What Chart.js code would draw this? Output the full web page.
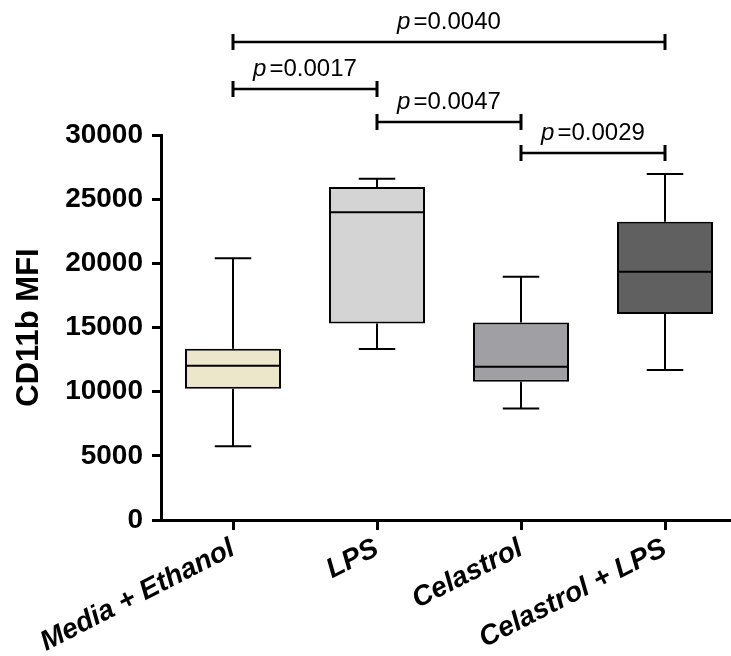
<!DOCTYPE html>
<html>
<head>
<meta charset="utf-8">
<script src="https://cdn.jsdelivr.net/npm/chart.js@4.4.1/dist/chart.umd.min.js"></script>
<style>
    html, body { margin: 0; padding: 0; background: #fff; overflow: hidden; }
    #wrap { width: 750px; height: 656px; }
</style>
</head>
<body>
<div id="wrap"><canvas id="mfiChart" width="750" height="656"></canvas></div>
<script>
// ============================================
// DATA - CD11b MFI per treatment group
// ============================================

const groups = ['Media + Ethanol', 'LPS', 'Celastrol', 'Celastrol + LPS'];
const minVals = [5750, 13330, 8680, 11690];
const q1Vals = [10230, 15320, 10780, 16050];
const medianVals = [12020, 23980, 11950, 19350];
const q3Vals = [13350, 25950, 15380, 23250];
const maxVals = [20390, 26600, 18960, 26960];
const boxColors = ['#ece6cb', '#d4d4d4', '#a09fa4', '#606060'];

// Pairwise comparisons (group index from -> to) and their p values
const compareFrom = [0, 0, 1, 2];
const compareTo = [3, 1, 2, 3];
const pValues = ['0.0040', '0.0017', '0.0047', '0.0029'];

const FONT = "'Liberation Sans', Arial, Helvetica, sans-serif";

// ============================================
// PLUGINS
// ============================================

// Whiskers (min/max with caps) behind the boxes, median line on top
const boxExtras = {
    id: 'boxExtras',
    beforeDatasetsDraw(chart) {
        const ctx = chart.ctx;
        const y = chart.scales.y;
        const bars = chart.getDatasetMeta(0).data;
        ctx.save();
        ctx.strokeStyle = '#000';
        ctx.lineWidth = 2;
        bars.forEach((bar, i) => {
            const cap = bar.width * 0.19;
            const yMin = y.getPixelForValue(minVals[i]);
            const yMax = y.getPixelForValue(maxVals[i]);
            ctx.beginPath();
            ctx.moveTo(bar.x, yMax);
            ctx.lineTo(bar.x, y.getPixelForValue(q3Vals[i]));
            ctx.moveTo(bar.x, y.getPixelForValue(q1Vals[i]));
            ctx.lineTo(bar.x, yMin);
            ctx.moveTo(bar.x - cap, yMax);
            ctx.lineTo(bar.x + cap, yMax);
            ctx.moveTo(bar.x - cap, yMin);
            ctx.lineTo(bar.x + cap, yMin);
            ctx.stroke();
        });
        ctx.restore();
    },
    afterDatasetsDraw(chart) {
        const ctx = chart.ctx;
        const y = chart.scales.y;
        const bars = chart.getDatasetMeta(0).data;
        ctx.save();
        ctx.strokeStyle = '#000';
        ctx.lineWidth = 2;
        bars.forEach((bar, i) => {
            const ym = y.getPixelForValue(medianVals[i]);
            ctx.beginPath();
            ctx.moveTo(bar.x - bar.width / 2, ym);
            ctx.lineTo(bar.x + bar.width / 2, ym);
            ctx.stroke();
        });
        ctx.restore();
    }
};

// Significance brackets above the plot
const brackets = {
    id: 'brackets',
    afterDraw(chart, args, opts) {
        const ctx = chart.ctx;
        const x = chart.scales.x;
        ctx.save();
        ctx.strokeStyle = '#000';
        ctx.fillStyle = '#000';
        ctx.textBaseline = 'alphabetic';
        compareFrom.forEach((from, i) => {
            const x1 = x.getPixelForValue(from);
            const x2 = x.getPixelForValue(compareTo[i]);
            const yy = opts.rows[i];

            ctx.lineWidth = 2.5;
            ctx.beginPath();
            ctx.moveTo(x1, yy);
            ctx.lineTo(x2, yy);
            ctx.stroke();
            ctx.lineWidth = 3;
            ctx.beginPath();
            ctx.moveTo(x1, yy - 8);
            ctx.lineTo(x1, yy + 8);
            ctx.moveTo(x2, yy - 8);
            ctx.lineTo(x2, yy + 8);
            ctx.stroke();

            // italic "p" then "=value"
            const rest = '=' + pValues[i];
            ctx.font = 'italic 24px ' + FONT;
            const wp = ctx.measureText('p').width;
            ctx.font = '24px ' + FONT;
            const wr = ctx.measureText(rest).width;
            const gap = 3;
            const tx = (x1 + x2) / 2 - (wp + gap + wr) / 2;
            const ty = yy - 13;
            ctx.textAlign = 'left';
            ctx.font = 'italic 24px ' + FONT;
            ctx.fillText('p', tx, ty);
            ctx.font = '24px ' + FONT;
            ctx.fillText(rest, tx + wp + gap, ty);
        });
        ctx.restore();
    }
};

// ============================================
// CHART
// ============================================

const ctx = document.getElementById('mfiChart').getContext('2d');
new Chart(ctx, {
    type: 'bar',
    data: {
        labels: groups,
        datasets: [{
            label: 'CD11b MFI',
            data: groups.map((g, i) => [q1Vals[i], q3Vals[i]]),
            backgroundColor: boxColors,
            borderColor: '#000',
            borderWidth: 2,
            borderSkipped: false,
            barPercentage: 0.667,
            categoryPercentage: 1
        }]
    },
    options: {
        responsive: false,
        animation: false,
        layout: { padding: { left: 0, right: 13, top: 135, bottom: 0 } },
        plugins: {
            legend: { display: false },
            tooltip: { enabled: false },
            brackets: { rows: [42, 89, 122, 153] }
        },
        scales: {
            x: {
                offset: true,
                grid: { offset: false, drawOnChartArea: false, drawTicks: true, tickLength: 10, lineWidth: 3, color: '#000' },
                border: { display: true, color: '#000', width: 3 },
                ticks: {
                    color: '#000',
                    autoSkip: false,
                    minRotation: 27,
                    maxRotation: 27,
                    padding: 2,
                    font: { family: FONT, size: 28, weight: 'bold', style: 'italic' }
                },
                afterFit(scale) { scale.height = 136; }
            },
            y: {
                min: 0,
                max: 30000,
                grid: { drawOnChartArea: false, drawTicks: true, tickLength: 9, lineWidth: 3, color: '#000' },
                border: { display: true, color: '#000', width: 3 },
                ticks: {
                    stepSize: 5000,
                    color: '#000',
                    padding: 9,
                    font: { family: FONT, size: 28, weight: 'bold' },
                    callback: (v) => String(v)
                },
                title: {
                    display: true,
                    text: 'CD11b MFI',
                    color: '#000',
                    padding: { top: 11, bottom: 0 },
                    font: { family: FONT, size: 31, weight: 'bold' }
                },
                afterFit(scale) { scale.width = 161; }
            }
        }
    },
    plugins: [boxExtras, brackets]
});
</script>
</body>
</html>
